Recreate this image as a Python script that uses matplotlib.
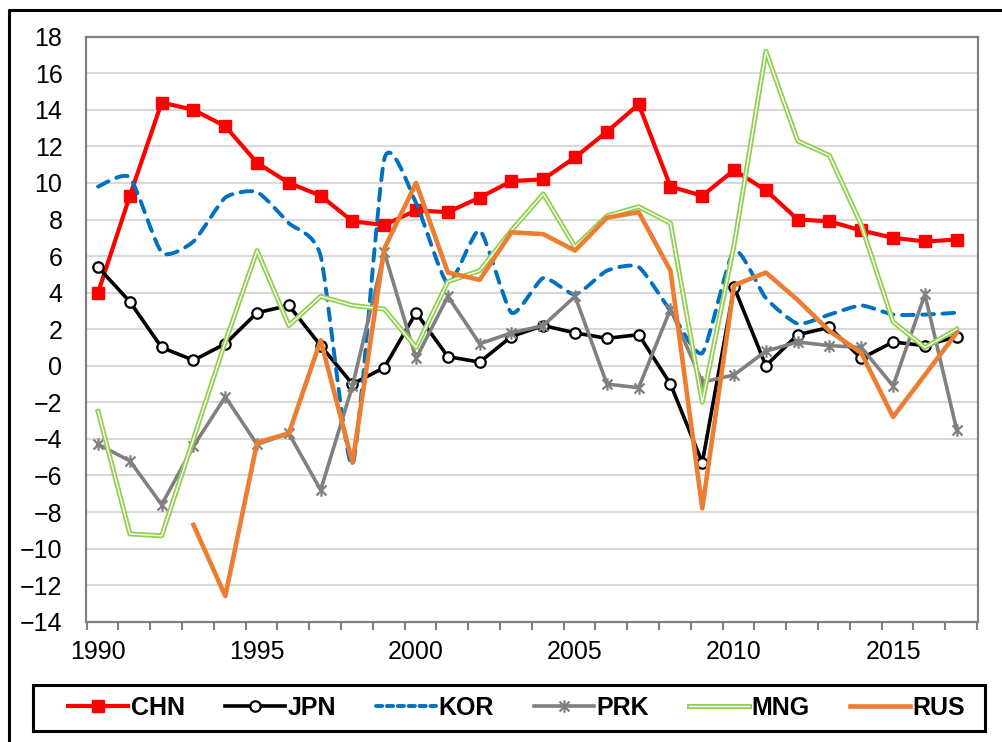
import matplotlib
matplotlib.use('Agg')

import numpy as np
import matplotlib.pyplot as plt
from matplotlib.path import Path
from matplotlib.patches import PathPatch, Rectangle
from matplotlib.lines import Line2D
import matplotlib.patheffects as pe

plt.rcParams['font.family'] = ['Liberation Sans', 'DejaVu Sans']

years = np.arange(1990, 2018)

chn = [4.0, 9.3, 14.4, 14.0, 13.1, 11.1, 10.0, 9.3, 7.9, 7.7,
       8.5, 8.4, 9.2, 10.1, 10.2, 11.4, 12.8, 14.3, 9.8, 9.3,
       10.7, 9.6, 8.0, 7.9, 7.4, 7.0, 6.8, 6.9]
jpn = [5.4, 3.5, 1.0, 0.3, 1.2, 2.9, 3.3, 1.1, -1.0, -0.1,
       2.9, 0.5, 0.2, 1.6, 2.2, 1.8, 1.5, 1.7, -1.0, -5.3,
       4.3, 0.0, 1.7, 2.1, 0.4, 1.3, 1.1, 1.6]
kor = [9.8, 10.3, 6.2, 6.8, 9.2, 9.5, 7.8, 6.0, -5.4, 11.3,
       8.9, 4.5, 7.4, 2.9, 4.8, 3.9, 5.2, 5.4, 3.0, 0.7,
       6.3, 3.7, 2.3, 2.8, 3.3, 2.8, 2.8, 2.9]
prk = [-4.3, -5.2, -7.6, -4.4, -1.7, -4.3, -3.7, -6.8, -1.1, 6.2,
       0.4, 3.8, 1.2, 1.8, 2.2, 3.8, -1.0, -1.2, 3.1, -0.9,
       -0.5, 0.8, 1.3, 1.1, 1.0, -1.1, 3.9, -3.5]
mng = [-2.5, -9.2, -9.3, -4.0, 1.3, 6.3, 2.2, 3.8, 3.3, 3.1,
       1.0, 4.6, 5.2, 7.4, 9.4, 6.5, 8.2, 8.7, 7.8, -2.0,
       6.6, 17.2, 12.3, 11.5, 7.7, 2.4, 1.0, 2.0]
rus = [np.nan, np.nan, np.nan, -8.7, -12.6, -4.2, -3.7, 1.4, -5.3, 6.4,
       10.0, 5.1, 4.7, 7.3, 7.2, 6.3, 8.1, 8.4, 5.2, -7.8,
       4.4, 5.1, 3.6, 1.9, 0.7, -2.8, -0.5, 1.8]

c_chn = '#FF0000'
c_kor = '#0070C0'
c_prk = '#808080'
c_mng = '#92D050'
c_rus = '#ED7D31'

fig = plt.figure(figsize=(10.02, 7.42), dpi=100)
ax = fig.add_axes([86/1002, 1 - 621.7/742, (978-86)/1002, (621.7-36.7)/742])

# star marker (x plus vertical bar) like Excel
star = Path([(-1, -1), (1, 1), (-1, 1), (1, -1), (0, -1.25), (0, 1.25)],
            [Path.MOVETO, Path.LINETO] * 3)

ax.plot(years, chn, color=c_chn, lw=3.0, marker='s', markersize=8.5,
        zorder=3.1, label='CHN')
ax.plot(years, jpn, color='black', lw=2.6, marker='o', markersize=7.5,
        markerfacecolor='white', markeredgecolor='black', markeredgewidth=1.6,
        zorder=3.2, label='JPN')

# KOR: smoothed dashed line (Bezier through the data points)
pts = np.column_stack([years, kor]).astype(float)
n = len(pts)
k = 0.6 / 6
verts = [pts[0]]
codes = [Path.MOVETO]
for i in range(n - 1):
    p0 = pts[max(i - 1, 0)]
    p1 = pts[i]
    p2 = pts[i + 1]
    p3 = pts[min(i + 2, n - 1)]
    verts += [p1 + (p2 - p0) * k, p2 - (p3 - p1) * k, p2]
    codes += [Path.CURVE4] * 3
ax.add_patch(PathPatch(Path(verts, codes), fill=False, edgecolor=c_kor, lw=2.8,
                       linestyle=(0, (3, 2.2)), capstyle='round',
                       transform=ax.transData, zorder=3.3))
kor_handle = Line2D([], [], color=c_kor, lw=2.8, linestyle=(0, (1.6, 1.2)),
                    dash_capstyle='round')

ax.plot(years, prk, color=c_prk, lw=2.6, marker=star, markersize=9,
        markeredgewidth=1.6, markerfacecolor='none', markeredgecolor=c_prk,
        zorder=3.4, label='PRK')
ax.plot(years, mng, color='white', lw=1.0, zorder=3.5, label='MNG',
        path_effects=[pe.Stroke(linewidth=3.6, foreground=c_mng), pe.Normal()])
ax.plot(years, rus, color=c_rus, lw=3.3, zorder=3.6, label='RUS')

ax.set_xlim(1989.62, 2017.67)
ax.set_ylim(-14, 18)
ax.set_yticks(np.arange(-14, 19, 2))
ax.set_xticks([1990, 1995, 2000, 2005, 2010, 2015])
ax.set_xticks(np.arange(1989.64, 2017.7, 1), minor=True)
ax.tick_params(axis='y', length=0, pad=17, labelsize=18)
ax.tick_params(axis='x', which='major', length=0, pad=13, labelsize=18)
ax.tick_params(axis='x', which='minor', length=6, width=1.5, color='#808080',
               direction='out')
ax.grid(axis='y', color='#D9D9D9', lw=1.5, zorder=0)
ax.set_axisbelow(True)
for s in ax.spines.values():
    s.set_color('#808080')
    s.set_linewidth(1.6)

handles, lbls = ax.get_legend_handles_labels()
handles.insert(2, kor_handle)
lbls.insert(2, 'KOR')
fig.add_artist(Rectangle((33/1002, 1 - 731/742), (985-33)/1002, 46/742,
                         transform=fig.transFigure, fill=False,
                         edgecolor='black', lw=2.2))
leg = fig.legend(handles, lbls, loc='center', ncol=6, mode='expand',
                 bbox_to_anchor=(68/1002, 1 - 731/742, (965-68)/1002, 46/742),
                 prop={'weight': 'bold', 'size': 18}, handlelength=2.4,
                 handletextpad=0.1, numpoints=1, frameon=False,
                 borderaxespad=0, borderpad=0)

# outer chart border (left and top only visible)
fig.add_artist(Line2D([9/1002, 9/1002, 1.01], [-0.01, 1 - 10/742, 1 - 10/742],
                      transform=fig.transFigure, color='black', lw=2.2))

fig.savefig('out.png', dpi=100)
